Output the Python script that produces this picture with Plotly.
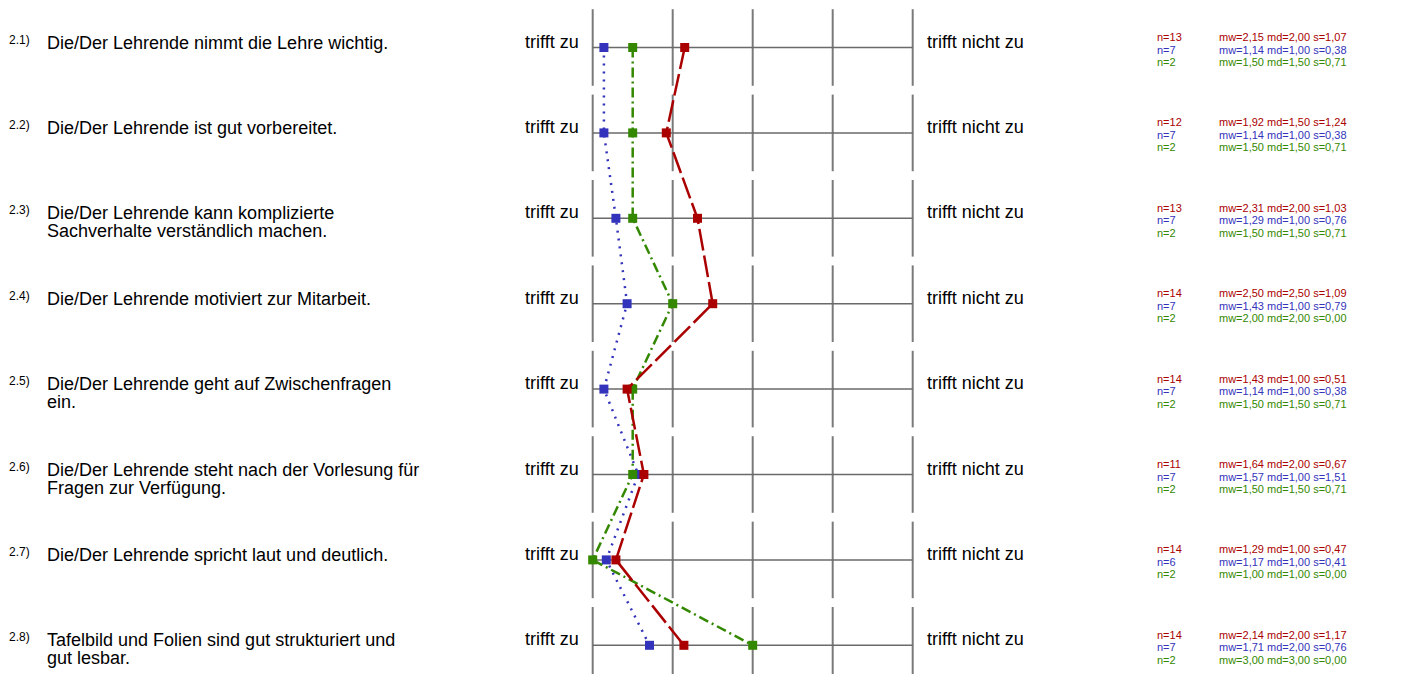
"""Profillinie Lehrevaluation – Abschnitt 2 (Lehrende)."""

import plotly.graph_objects as go

# Fragen
ITEM_CODES = ["2.1)", "2.2)", "2.3)", "2.4)", "2.5)", "2.6)", "2.7)", "2.8)"]
ITEM_TEXTS = [
    "Die/Der Lehrende nimmt die Lehre wichtig.",
    "Die/Der Lehrende ist gut vorbereitet.",
    "Die/Der Lehrende kann komplizierte<br>Sachverhalte verständlich machen.",
    "Die/Der Lehrende motiviert zur Mitarbeit.",
    "Die/Der Lehrende geht auf Zwischenfragen<br>ein.",
    "Die/Der Lehrende steht nach der Vorlesung für<br>Fragen zur Verfügung.",
    "Die/Der Lehrende spricht laut und deutlich.",
    "Tafelbild und Folien sind gut strukturiert und<br>gut lesbar.",
]
LEFT_POLE = "trifft zu"
RIGHT_POLE = "trifft nicht zu"
SCALE = [1, 2, 3, 4, 5]

# Drei Gruppen: n, Mittelwert, Median, Standardabweichung
RED_N = [13, 12, 13, 14, 14, 11, 14, 14]
RED_MW = [2.15, 1.92, 2.31, 2.50, 1.43, 1.64, 1.29, 2.14]
RED_MD = [2.00, 1.50, 2.00, 2.50, 1.00, 2.00, 1.00, 2.00]
RED_S = [1.07, 1.24, 1.03, 1.09, 0.51, 0.67, 0.47, 1.17]

BLUE_N = [7, 7, 7, 7, 7, 7, 6, 7]
BLUE_MW = [1.14, 1.14, 1.29, 1.43, 1.14, 1.57, 1.17, 1.71]
BLUE_MD = [1.00, 1.00, 1.00, 1.00, 1.00, 1.00, 1.00, 2.00]
BLUE_S = [0.38, 0.38, 0.76, 0.79, 0.38, 1.51, 0.41, 0.76]

GREEN_N = [2, 2, 2, 2, 2, 2, 2, 2]
GREEN_MW = [1.50, 1.50, 1.50, 2.00, 1.50, 1.50, 1.00, 3.00]
GREEN_MD = [1.50, 1.50, 1.50, 2.00, 1.50, 1.50, 1.00, 3.00]
GREEN_S = [0.71, 0.71, 0.71, 0.00, 0.71, 0.71, 0.00, 0.00]

RED = "#aa0000"
BLUE = "#3333bb"
GREEN = "#338800"
GRID = "#7a7a7a"
FONT = "Liberation Sans, Arial, sans-serif"

W, H = 1407, 674
X0_PX, PX_PER_UNIT = 592.7, 80.0     # Skalenwert 1 liegt bei x=592.7 px
Y0_PX, PX_PER_ROW = 47.5, 85.4       # erste Zeile bei y=47.5 px

rows = list(range(len(ITEM_TEXTS)))

# (Werte, Farbe, Strichart, n, md, s) – Zeichenreihenfolge: blau, grün, rot
groups = {
    "blue": (BLUE_MW, BLUE, "2px,6px", BLUE_N, BLUE_MD, BLUE_S),
    "green": (GREEN_MW, GREEN, "10px,4px,2px,4px", GREEN_N, GREEN_MD, GREEN_S),
    "red": (RED_MW, RED, "22px,5px", RED_N, RED_MD, RED_S),
}

fig = go.Figure()
for name, (mw, color, dash, *_rest) in groups.items():
    fig.add_trace(go.Scatter(
        x=mw, y=rows, mode="lines+markers", name=name,
        line=dict(color=color, width=2.5, dash=dash),
        marker=dict(symbol="square", size=9, color=color),
        hoverinfo="skip",
    ))


def label(x_px, i, text, size, color="#000000", anchor="left", shift=0):
    return dict(x=x_px / W, y=i, xref="paper", yref="y", text=text,
                xanchor=anchor, yanchor="middle", yshift=shift, showarrow=False,
                borderpad=0, font=dict(size=size, color=color, family=FONT))


shapes = []
annotations = []
half = 38.3 / PX_PER_ROW
for i in rows:
    for v in SCALE:
        shapes.append(dict(type="line", x0=v, x1=v, y0=i - half, y1=i + half,
                           line=dict(color=GRID, width=2), layer="below"))
    shapes.append(dict(type="line", x0=SCALE[0], x1=SCALE[-1], y0=i, y1=i,
                       line=dict(color="#6a6a6a", width=1.5), layer="below"))

    # Fragennummer + Fragentext
    annotations.append(label(7.5, i, ITEM_CODES[i], 12, shift=8))
    for k, line in enumerate(ITEM_TEXTS[i].split("<br>")):
        annotations.append(label(46, i, line, 18, shift=5 - 18 * k))

    # Pole
    annotations.append(label(580, i, LEFT_POLE, 18, anchor="right", shift=6))
    annotations.append(label(926, i, RIGHT_POLE, 18, shift=6))

    # Kennwerte rechts
    for key, shift in [("red", 10.5), ("blue", -2), ("green", -14.5)]:
        mw, color, _d, n, md, s = groups[key]
        stat = f"mw={mw[i]:.2f} md={md[i]:.2f} s={s[i]:.2f}".replace(".", ",")
        annotations.append(label(1156, i, f"n={n[i]}", 11, color, shift=shift))
        annotations.append(label(1218, i, stat, 11, color, shift=shift))

fig.update_layout(
    width=W, height=H,
    margin=dict(l=0, r=0, t=0, b=0),
    paper_bgcolor="white", plot_bgcolor="white",
    showlegend=False,
    shapes=shapes,
    annotations=annotations,
    font=dict(family=FONT),
    xaxis=dict(range=[1 - X0_PX / PX_PER_UNIT, 1 + (W - X0_PX) / PX_PER_UNIT],
               visible=False, fixedrange=True),
    yaxis=dict(range=[(H - Y0_PX) / PX_PER_ROW, -Y0_PX / PX_PER_ROW],
               visible=False, fixedrange=True),
)

fig.write_html("out.html", config={"displayModeBar": False},
               post_script="document.body.style.margin='0';")
